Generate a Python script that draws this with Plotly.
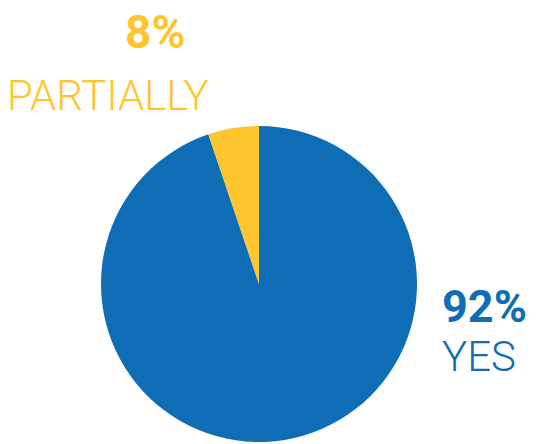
import plotly.graph_objects as go

# Data
labels = ["YES", "PARTIALLY"]
slice_values = [94.8, 5.2]          # slice sizes as drawn in the picture
pct_labels = ["92%", "8%"]          # percentages printed next to the pie
colors = ["#0E6DB5", "#FFC52E"]

W, H = 543, 444

fig = go.Figure(go.Pie(
    labels=labels,
    values=slice_values,
    sort=False,
    direction="clockwise",
    rotation=0,
    marker=dict(colors=colors, line=dict(width=0)),
    textinfo="none",
    hoverinfo="skip",
    showlegend=False,
    domain=dict(x=[101 / W, 417 / W], y=[1 - 442 / H, 1 - 126 / H]),
))

font_family = "Roboto, sans-serif"

def px_x(x):
    return x / W

def px_y(y):
    return 1 - y / H

annotations = [
    dict(text=pct_labels[1], x=px_x(155), y=px_y(32),
         xanchor="center", yanchor="middle",
         font=dict(family=font_family, size=46, weight=700, color=colors[1])),
    dict(text=labels[1], x=px_x(108), y=px_y(95),
         xanchor="center", yanchor="middle",
         font=dict(family=font_family, size=42, weight=300, color=colors[1])),
    dict(text=pct_labels[0], x=px_x(440), y=px_y(306),
         xanchor="left", yanchor="middle",
         font=dict(family=font_family, size=45, weight=700, color=colors[0])),
    dict(text=labels[0], x=px_x(440), y=px_y(356),
         xanchor="left", yanchor="middle",
         font=dict(family=font_family, size=42, weight=300, color=colors[0])),
]
for a in annotations:
    a.update(xref="paper", yref="paper", showarrow=False)

fig.update_layout(
    width=W, height=H,
    margin=dict(l=0, r=0, t=0, b=0),
    paper_bgcolor="white",
    plot_bgcolor="white",
    annotations=annotations,
)

fig.write_html("out.html")
